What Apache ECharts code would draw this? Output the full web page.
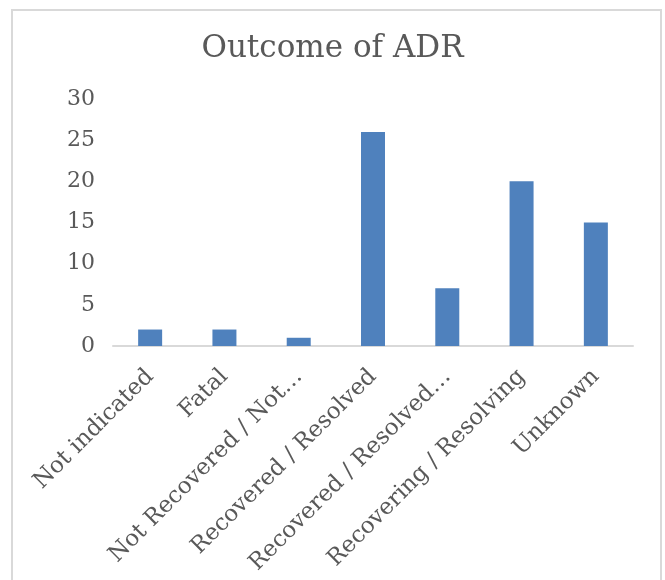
<!DOCTYPE html>
<html>
<head>
<meta charset="utf-8">
<script src="https://cdn.jsdelivr.net/npm/echarts@6/dist/echarts.min.js"></script>
<style>
html,body{margin:0;padding:0;background:#fff;}
#c{width:665px;height:580px;}
</style>
</head>
<body>
<div id="c"></div>
<script>
const titleText = "Outcome of ADR";
const categories = ["Not indicated", "Fatal", "Not Recovered / Not…", "Recovered / Resolved", "Recovered / Resolved…", "Recovering / Resolving", "Unknown"];
const values = [2, 2, 1, 26, 7, 20, 15];
const yTicks = [0, 5, 10, 15, 20, 25, 30];

const FONT = "DejaVu Serif";
const chart = echarts.init(document.getElementById('c'), null, {renderer: 'canvas'});
chart.setOption({
  animation: false,
  backgroundColor: '#ffffff',
  title: {
    text: titleText,
    left: 'center',
    top: 28,
    textStyle: {fontFamily: FONT, fontSize: 31, fontWeight: 'normal', color: '#595959'}
  },
  graphic: [{
    type: 'rect',
    shape: {x: 12, y: 10, width: 649, height: 580},
    style: {fill: 'none', stroke: '#d9d9d9', lineWidth: 2},
    silent: true
  }],
  grid: {left: 113, right: 32, top: 99, bottom: 234, containLabel: false},
  xAxis: {
    type: 'category',
    data: categories,
    axisLine: {lineStyle: {color: '#d9d9d9', width: 2}},
    axisTick: {show: false},
    axisLabel: {
      rotate: 45, interval: 0, margin: 27,
      fontFamily: FONT, fontSize: 23, color: '#595959'
    }
  },
  yAxis: {
    type: 'value',
    min: yTicks[0], max: yTicks[yTicks.length - 1], interval: 5,
    axisLine: {show: false},
    axisTick: {show: false},
    splitLine: {show: false},
    axisLabel: {fontFamily: FONT, fontSize: 22, color: '#595959', margin: 18}
  },
  series: [{
    type: 'bar',
    data: values,
    barWidth: 24,
    itemStyle: {color: '#4f81bd'}
  }]
});
</script>
</body>
</html>
